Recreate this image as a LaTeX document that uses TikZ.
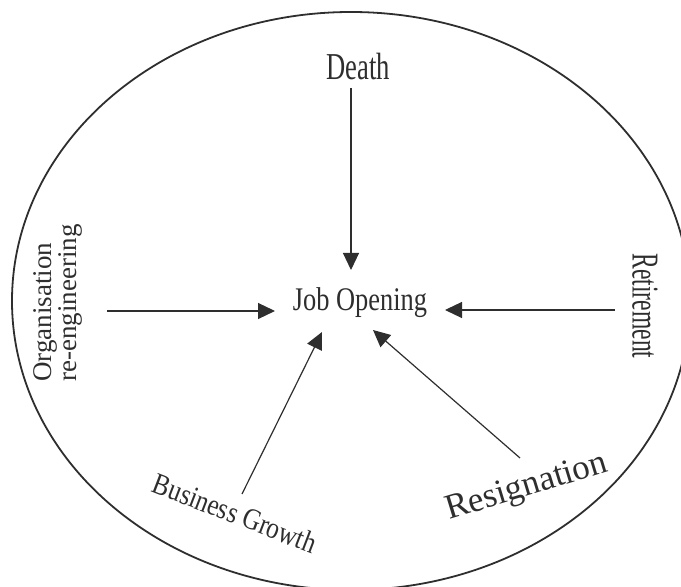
\documentclass[tikz,border=0pt]{standalone}
\usepackage{fontspec}
\setmainfont{Liberation Serif}
\usepackage{graphicx}
\usetikzlibrary{arrows.meta}
\definecolor{ink}{gray}{0.18}
\newcommand{\squash}[2]{\scalebox{#1}[1]{#2}}

\begin{document}
\begin{tikzpicture}[x=0.5pt, y=-0.5pt,
  cause/.style={inner sep=2pt, text=ink},
  arr/.style={-{Triangle[length=8.5pt,width=8pt]}, draw=ink, line width=0.6pt}]
\useasboundingbox (0,0) rectangle (681,587);
\begin{scope}
\clip (0,0) rectangle (681,587);
\draw[ink, line width=0.9pt] (351,301) ellipse [x radius=169.5pt, y radius=144.5pt];
\end{scope}

\node[cause, font=\fontsize{16.5}{19}\selectfont] (job) at (360,303) {\squash{0.8}{Job Opening}};
\node[cause, font=\fontsize{19}{22}\selectfont] (death) at (358,67) {\squash{0.7}{Death}};
\node[cause, font=\fontsize{13.5}{11}\selectfont, rotate=90, align=left] (org) at (58,303) {Organisation\\re-engineering};
\node[cause, font=\fontsize{19}{22}\selectfont, rotate=-90] (retire) at (645,306) {\squash{0.62}{Retirement}};
\node[cause, font=\fontsize{15}{18}\selectfont, rotate=-21] (growth) at (235,513) {\squash{0.84}{Business Growth}};
\node[cause, font=\fontsize{17.5}{21}\selectfont, rotate=17] (resign) at (527,488) {Resignation};

\draw[arr] ([shift={(-7,21)}]death.center) -- ([shift={(-9,-33)}]job.center);
\draw[arr] ([shift={(49,8)}]org.center) -- ([shift={(-85,8)}]job.center);
\draw[arr] ([shift={(-30,4)}]retire.center) -- ([shift={(85,7)}]job.center);
\draw[arr] ([shift={(7,-19)}]growth.center) -- ([shift={(-38,29)}]job.center);
\draw[arr] ([shift={(-7,-30)}]resign.center) -- ([shift={(13,27)}]job.center);
\end{tikzpicture}
\end{document}
